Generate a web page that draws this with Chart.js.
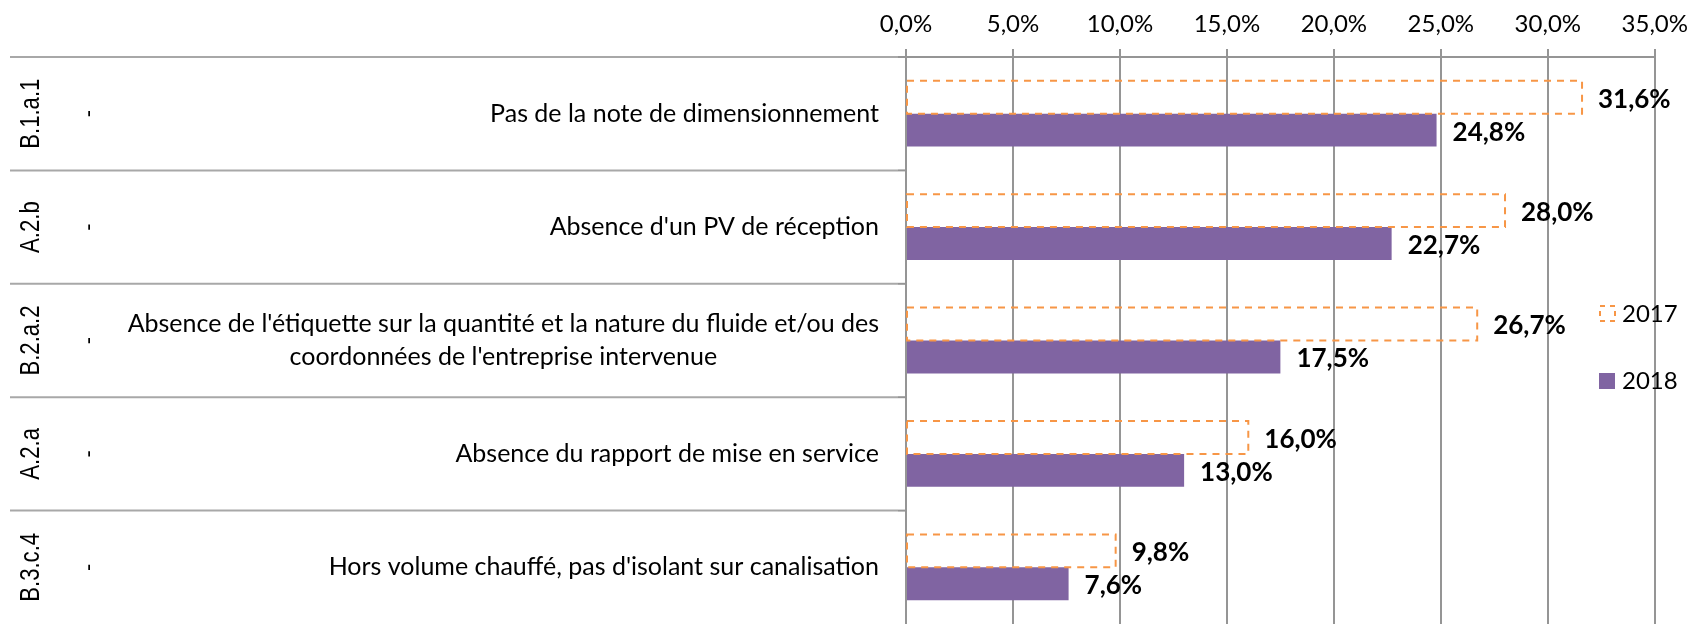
<!DOCTYPE html>
<html>
<head>
<meta charset="utf-8">
<script src="https://cdn.jsdelivr.net/npm/chart.js@4/dist/chart.umd.min.js"></script>
<style>
  html, body { margin: 0; padding: 0; background: #fff; }
  #wrap { width: 1698px; height: 624px; }
</style>
</head>
<body>
<div id="wrap"><canvas id="chart" width="1698" height="624"></canvas></div>
<script>
// data
const codes = ['B.1.a.1', 'A.2.b', 'B.2.a.2', 'A.2.a', 'B.3.c.4'];
const categories = [
    'Pas de la note de dimensionnement',
    "Absence d'un PV de réception",
    ["Absence de l'étiquette sur la quantité et la nature du fluide et/ou des", "coordonnées de l'entreprise intervenue"],
    'Absence du rapport de mise en service',
    "Hors volume chauffé, pas d'isolant sur canalisation"
];
const seriesNames = ['2017', '2018'];
const values2017 = [31.6, 28.0, 26.7, 16.0, 9.8];
const values2018 = [24.8, 22.7, 17.5, 13.0, 7.6];
const xMin = 0, xMax = 35, xStep = 5;

const ORANGE = '#F79646';
const PURPLE = '#8064A2';
const GRID = '#959595';
const SEP = '#a8a8a8';

const fmt = v => v.toFixed(1).replace('.', ',') + '%';

// dashed outline for 2017 bars, value labels
const barExtras = {
    id: 'barExtras',
    afterDatasetsDraw(chart) {
        const ctx = chart.ctx;
        ctx.save();
        // dashed boxes
        chart.getDatasetMeta(0).data.forEach(bar => {
            const h = bar.height;
            ctx.strokeStyle = ORANGE;
            ctx.lineWidth = 2;
            ctx.setLineDash([7, 6]);
            ctx.strokeRect(bar.base, bar.y - h / 2, bar.x - bar.base, h);
        });
        ctx.setLineDash([]);
        // labels
        ctx.font = 'bold 26px Lato';
        ctx.fillStyle = '#000';
        ctx.textAlign = 'left';
        ctx.textBaseline = 'middle';
        chart.data.datasets.forEach((ds, di) => {
            chart.getDatasetMeta(di).data.forEach((bar, i) => {
                ctx.fillText(fmt(ds.data[i]), bar.x + 16, bar.y + 2);
            });
        });
        ctx.restore();
    }
};

// category side panel (codes, dashes, descriptions, separators) and legend
const sidePanel = {
    id: 'sidePanel',
    afterDraw(chart) {
        const ctx = chart.ctx;
        const area = chart.chartArea;
        const y = chart.scales.y;
        const half = (y.getPixelForValue(1) - y.getPixelForValue(0)) / 2;
        ctx.save();

        // separators + axis ticks
        for (let i = 0; i < categories.length; i++) {
            const top = y.getPixelForValue(i) - half;
            ctx.lineWidth = 2;
            ctx.strokeStyle = SEP;
            ctx.beginPath();
            ctx.moveTo(10, top);
            ctx.lineTo(area.left - 8, top);
            ctx.stroke();
            ctx.strokeStyle = GRID;
            ctx.beginPath();
            ctx.moveTo(area.left - 8, top);
            ctx.lineTo(area.left, top);
            ctx.stroke();
        }

        categories.forEach((label, i) => {
            const cy = y.getPixelForValue(i);

            // rotated code
            ctx.save();
            ctx.translate(32, cy);
            ctx.rotate(-Math.PI / 2);
            ctx.scale(0.82, 1);
            ctx.font = '27px "Liberation Sans"';
            ctx.fillStyle = '#000';
            ctx.textAlign = 'center';
            ctx.textBaseline = 'middle';
            ctx.fillText(codes[i], 0, 0);
            ctx.restore();

            // rotated dash
            ctx.save();
            ctx.translate(89, cy);
            ctx.rotate(-Math.PI / 2);
            ctx.font = '22px "Liberation Sans"';
            ctx.fillStyle = '#000';
            ctx.textAlign = 'center';
            ctx.textBaseline = 'middle';
            ctx.fillText('-', 0, 0);
            ctx.restore();

            // description
            const lines = Array.isArray(label) ? label : [label];
            ctx.font = '25px Lato';
            ctx.fillStyle = '#000';
            ctx.textBaseline = 'middle';
            const w = Math.max(...lines.map(l => ctx.measureText(l).width));
            const right = area.left - 27;
            const lh = 33;
            lines.forEach((l, k) => {
                const ly = cy + (k - (lines.length - 1) / 2) * lh;
                ctx.textAlign = 'center';
                ctx.fillText(l, right - w / 2, ly);
            });
        });

        // legend
        ctx.font = '24px Lato';
        ctx.textAlign = 'left';
        ctx.textBaseline = 'middle';
        ctx.fillStyle = '#000';
        ctx.strokeStyle = ORANGE;
        ctx.lineWidth = 2;
        ctx.setLineDash([5, 5]);
        ctx.strokeRect(1600, 306, 15, 15);
        ctx.setLineDash([]);
        ctx.fillText(seriesNames[0], 1622, 314);
        ctx.fillStyle = PURPLE;
        ctx.fillRect(1599, 373, 16, 16);
        ctx.fillStyle = '#000';
        ctx.fillText(seriesNames[1], 1622, 381);

        ctx.restore();
    }
};

new Chart(document.getElementById('chart'), {
    type: 'bar',
    data: {
        labels: categories,
        datasets: [{
            label: seriesNames[0],
            data: values2017,
            backgroundColor: 'rgba(0,0,0,0)',
            borderWidth: 0,
            categoryPercentage: 0.58,
            barPercentage: 1.0
        }, {
            label: seriesNames[1],
            data: values2018,
            backgroundColor: PURPLE,
            borderWidth: 0,
            categoryPercentage: 0.58,
            barPercentage: 1.0
        }]
    },
    options: {
        indexAxis: 'y',
        responsive: false,
        animation: false,
        layout: {
            padding: { left: 0, right: 36, top: 0, bottom: -3 }
        },
        plugins: {
            legend: { display: false },
            tooltip: { enabled: false }
        },
        scales: {
            x: {
                position: 'top',
                min: xMin,
                max: xMax,
                afterFit(s) { s.height = 57; },
                ticks: {
                    stepSize: xStep,
                    padding: 10,
                    color: '#000',
                    font: { family: 'Lato', size: 24 },
                    callback: v => fmt(v)
                },
                grid: { color: GRID, lineWidth: 2, tickLength: 8 },
                border: { display: true, color: GRID, width: 2 }
            },
            y: {
                afterFit(s) { s.width = 906; },
                ticks: { display: false },
                grid: { display: false },
                border: { display: false }
            }
        }
    },
    plugins: [barExtras, sidePanel]
});
</script>
</body>
</html>
